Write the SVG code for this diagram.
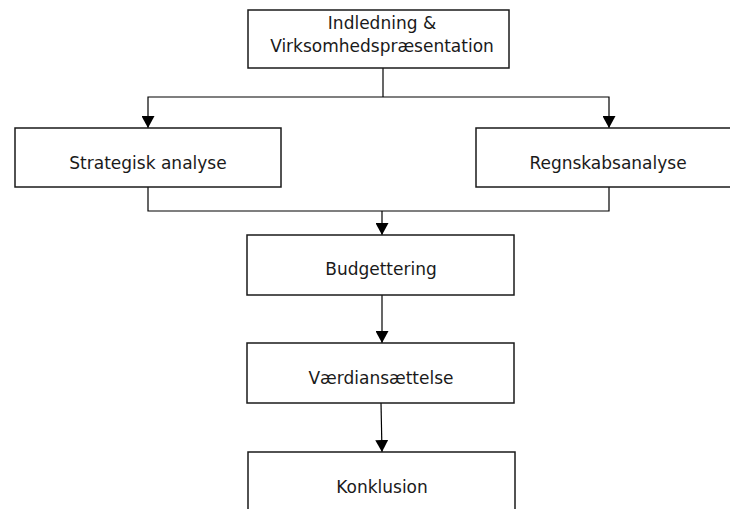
<svg xmlns="http://www.w3.org/2000/svg" width="730" height="509" viewBox="0 0 730 509">
<style>
.box{fill:#fff;stroke:#1a1a1a;stroke-width:1.5}
.lbl{font-family:"DejaVu Sans",Verdana,sans-serif;font-size:17px;fill:#1a1a1a;text-anchor:middle}
.con{fill:none;stroke:#000;stroke-width:1.2}
</style>
<defs>
<marker id="arr" markerUnits="userSpaceOnUse" markerWidth="13" markerHeight="13" refX="12" refY="6.5" orient="auto">
<path d="M0,0 L12,6.5 L0,13 z" fill="#000"/>
</marker>
</defs>
<rect width="730" height="509" fill="#fff"/>
<g id="connectors">
<polyline class="con" points="383,68 383,97"/>
<polyline class="con" points="383,97 148,97 148,128" marker-end="url(#arr)"/>
<polyline class="con" points="383,97 609,97 609,128" marker-end="url(#arr)"/>
<polyline class="con" points="148,187 148,211 609,211 609,187"/>
<line class="con" x1="382" y1="211" x2="382" y2="235" marker-end="url(#arr)"/>
<line class="con" x1="382" y1="295" x2="382" y2="343" marker-end="url(#arr)"/>
<line class="con" x1="381" y1="403" x2="382" y2="452" marker-end="url(#arr)"/>
</g>
<g id="indledning">
<rect class="box" x="248" y="10" width="261" height="58"/>
<text class="lbl" x="382" y="29">Indledning &amp;</text>
<text class="lbl" x="382" y="52">Virksomhedspræsentation</text>
</g>
<g id="strategisk">
<rect class="box" x="15" y="128" width="266" height="59"/>
<text class="lbl" x="148" y="169">Strategisk analyse</text>
</g>
<g id="regnskab">
<rect class="box" x="476" y="128" width="270" height="59"/>
<text class="lbl" x="608" y="169">Regnskabsanalyse</text>
</g>
<g id="budgettering">
<rect class="box" x="247" y="235" width="267" height="60"/>
<text class="lbl" x="381" y="275" font-size="16">Budgettering</text>
</g>
<g id="vaerdiansaettelse">
<rect class="box" x="247" y="343" width="267" height="60"/>
<text class="lbl" x="381" y="384">Værdiansættelse</text>
</g>
<g id="konklusion">
<rect class="box" x="248" y="452" width="267" height="70"/>
<text class="lbl" x="382" y="493">Konklusion</text>
</g>
</svg>
